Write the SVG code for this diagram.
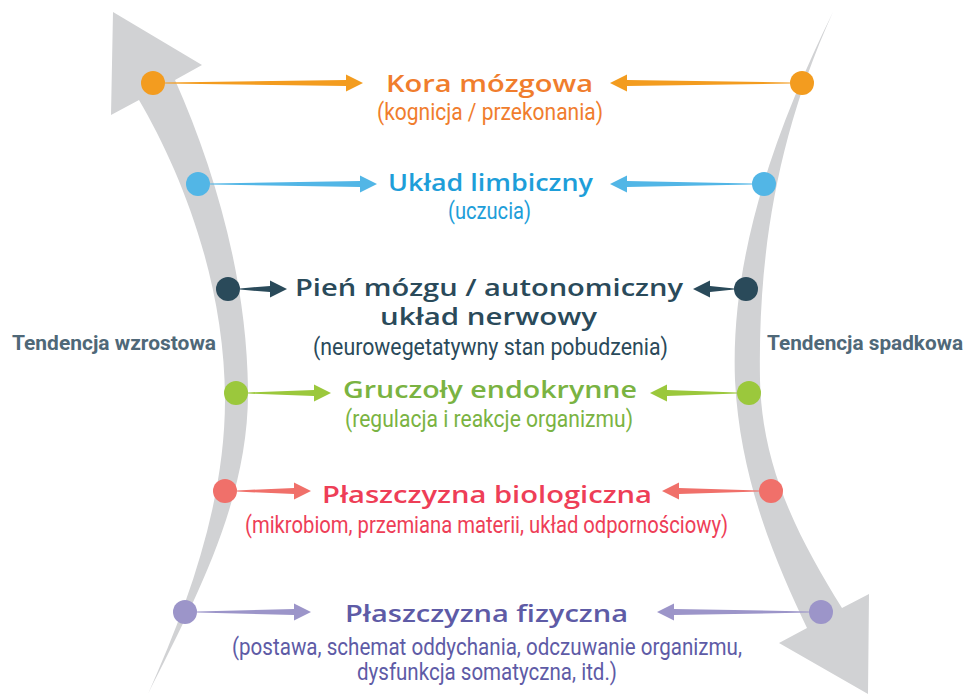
<svg xmlns="http://www.w3.org/2000/svg" width="970" height="694" viewBox="0 0 970 694">
<style>
.band{fill:#D1D2D4}
.t{font-family:"Open Sans","Noto Sans",sans-serif;font-weight:600;font-size:24px}
.s{font-family:Roboto,"Liberation Sans",sans-serif;font-weight:400;font-size:23px}
.side{font-family:Roboto,"Liberation Sans",sans-serif;font-weight:700;font-size:21px;fill:#4F6878}
.or{fill:#F39C1F}.orT{fill:#F07D2D}
.bl{fill:#52B6E6}.blT{fill:#1E9ED9}
.dk{fill:#2A4A5A}.dkT{fill:#2A4A5A}
.gr{fill:#9BC83C}.grT{fill:#7AB342}
.rd{fill:#F0706A}.rdT{fill:#EE3E57}
.pu{fill:#9C95C9}.puT{fill:#5E5BA6}
</style>
<g id="band-left">
<path class="band" d="M139,100 C180,170 225,280 225,400 C225,500 190,600 148,694 C195,600 249,500 248,390 C247,280 215,170 175,80 L202,65 L113,12 L111,115 Z"/>
</g>
<g id="band-right">
<path class="band" d="M833,12 C780,120 730,250 735,380 C740,480 775,560 807,628 L779,643 L868,694 L869,594 L842,608 C800,540 762,470 760,380 C758,260 775,140 833,12 Z"/>
</g>
<g id="connectors">
<path class="or" d="M165,82.4 L346,80 L346,74.5 L363,83 L346,91.5 L346,86 L165,83.6Z"/>
<path class="or" d="M790,82.4 L627,80 L627,74.5 L610,83 L627,91.5 L627,86 L790,83.6Z"/>
<path class="bl" d="M210,183.4 L360,181 L360,175.5 L377,184 L360,192.5 L360,187 L210,184.6Z"/>
<path class="bl" d="M752,183.4 L627,181 L627,175.5 L610,184 L627,192.5 L627,187 L752,184.6Z"/>
<path class="dk" d="M240,288.4 L270,286 L270,280.5 L287,289 L270,297.5 L270,292 L240,289.6Z"/>
<path class="dk" d="M734,288.4 L710,286 L710,280.5 L693,289 L710,297.5 L710,292 L734,289.6Z"/>
<path class="gr" d="M248,392.4 L314,390 L314,384.5 L331,393 L314,401.5 L314,396 L248,393.6Z"/>
<path class="gr" d="M737,392.4 L667,390 L667,384.5 L650,393 L667,401.5 L667,396 L737,393.6Z"/>
<path class="rd" d="M237,490.4 L294,488 L294,482.5 L311,491 L294,499.5 L294,494 L237,491.6Z"/>
<path class="rd" d="M759,490.4 L679,488 L679,482.5 L662,491 L679,499.5 L679,494 L759,491.6Z"/>
<path class="pu" d="M197,611.4 L294,609 L294,603.5 L311,612 L294,620.5 L294,615 L197,612.6Z"/>
<path class="pu" d="M809,611.4 L674,609 L674,603.5 L657,612 L674,620.5 L674,615 L809,612.6Z"/>
</g>
<g id="dots">
<circle class="or" cx="153" cy="83" r="12"/><circle class="or" cx="802" cy="83" r="12"/>
<circle class="bl" cx="198" cy="184" r="12"/><circle class="bl" cx="764" cy="184" r="12"/>
<circle class="dk" cx="228" cy="289" r="12"/><circle class="dk" cx="746" cy="289" r="12"/>
<circle class="gr" cx="236" cy="393" r="12"/><circle class="gr" cx="749" cy="393" r="12"/>
<circle class="rd" cx="225" cy="491" r="12"/><circle class="rd" cx="771" cy="491" r="12"/>
<circle class="pu" cx="185" cy="612" r="12"/><circle class="pu" cx="821" cy="612" r="12"/>
</g>
<g id="node-kora">
<text class="t orT" x="386" y="92" textLength="207" lengthAdjust="spacingAndGlyphs">Kora mózgowa</text>
<text class="s orT" x="377" y="120" textLength="226" lengthAdjust="spacingAndGlyphs">(kognicja / przekonania)</text>
</g>
<g id="node-limbiczny">
<text class="t blT" x="388" y="191" textLength="205" lengthAdjust="spacingAndGlyphs">Układ limbiczny</text>
<text class="s blT" x="448" y="219" textLength="83" lengthAdjust="spacingAndGlyphs">(uczucia)</text>
</g>
<g id="node-pien">
<text class="t dkT" x="295" y="296" textLength="388" lengthAdjust="spacingAndGlyphs">Pień mózgu / autonomiczny</text>
<text class="t dkT" x="380" y="325" textLength="217" lengthAdjust="spacingAndGlyphs">układ nerwowy</text>
<text class="s dkT" x="313" y="355" textLength="355" lengthAdjust="spacingAndGlyphs">(neurowegetatywny stan pobudzenia)</text>
</g>
<g id="node-gruczoly">
<text class="t grT" x="343" y="398" textLength="294" lengthAdjust="spacingAndGlyphs">Gruczoły endokrynne</text>
<text class="s grT" x="345" y="427" textLength="288" lengthAdjust="spacingAndGlyphs">(regulacja i reakcje organizmu)</text>
</g>
<g id="node-biologiczna">
<text class="t rdT" x="322" y="503" textLength="330" lengthAdjust="spacingAndGlyphs">Płaszczyzna biologiczna</text>
<text class="s rdT" x="245" y="533" textLength="483" lengthAdjust="spacingAndGlyphs">(mikrobiom, przemiana materii, układ odpornościowy)</text>
</g>
<g id="node-fizyczna">
<text class="t puT" x="345" y="622" textLength="283" lengthAdjust="spacingAndGlyphs">Płaszczyzna fizyczna</text>
<text class="s puT" x="232" y="655" textLength="510" lengthAdjust="spacingAndGlyphs">(postawa, schemat oddychania, odczuwanie organizmu,</text>
<text class="s puT" x="357" y="680" textLength="260" lengthAdjust="spacingAndGlyphs">dysfunkcja somatyczna, itd.)</text>
</g>
<g id="label-left">
<text class="side" x="12" y="350" textLength="204" lengthAdjust="spacingAndGlyphs">Tendencja wzrostowa</text>
</g>
<g id="label-right">
<text class="side" x="767" y="350" textLength="196" lengthAdjust="spacingAndGlyphs">Tendencja spadkowa</text>
</g>
</svg>
